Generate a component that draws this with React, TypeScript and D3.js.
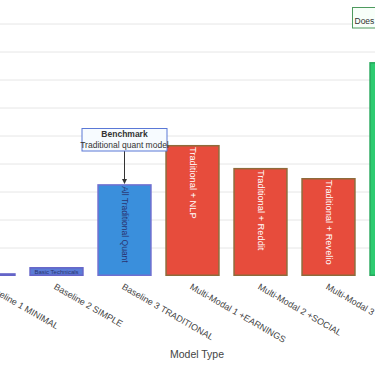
import React from 'react';
import * as d3 from 'd3';

const categories = [
  'Baseline 1 MINIMAL',
  'Baseline 2 SIMPLE',
  'Baseline 3 TRADITIONAL',
  'Multi-Modal 1 +EARNINGS',
  'Multi-Modal 2 +SOCIAL',
  'Multi-Modal 3 +WORKFORCE',
  'Multi-Modal 4 FULL',
];
const values = [0.005, 0.016, 0.164, 0.234, 0.193, 0.175, 0.382];
const barTexts = ['', 'Basic Technicals', 'All Traditional Quant', 'Traditional + NLP', 'Traditional + Reddit', 'Traditional + Revelio', 'All Sources'];
const gridTicks = [0.05, 0.1, 0.15, 0.2, 0.25, 0.3, 0.35, 0.4, 0.45];

const fills = ['#5b7bd6', '#5b7bd6', '#3a8fdc', '#e74c3c', '#e74c3c', '#e74c3c', '#2ecc71'];
const strokes = ['#6464c8', '#6464c8', '#6f6fd0', '#8e6b3b', '#8e6b3b', '#8e6b3b', '#27a85c'];
const textColors = ['#2a3470', '#2a3470', '#2a3470', '#ffffff', '#ffffff', '#ffffff', '#ffffff'];
const textSizes = [6, 6, 8.5, 9.3, 9.3, 9.3, 9.3];

const W = 375;
const H = 366;
const font = '"Liberation Sans", Arial, sans-serif';

export default function App() {
  const x = d3.scaleBand<string>()
    .domain(categories)
    .range([-45.5, -45.5 + 68 * 7])
    .paddingInner(0.2)
    .paddingOuter(0.1);

  const y = d3.scaleLinear().domain([0, 0.5]).range([276, -4]);

  const bench = x(categories[2])! + x.bandwidth() / 2;

  return (
    <svg width={W} height={H} style={{ position: 'absolute', left: 0, top: 0, background: '#fff' }} fontFamily={font}>
      <defs>
        <marker id="arr" viewBox="0 0 6 6" refX="5" refY="3" markerWidth="5" markerHeight="5" orient="auto">
          <path d="M0,0 L6,3 L0,6 Z" fill="#333" />
        </marker>
      </defs>
      {/* gridlines */}
      {gridTicks.map(t => (
        <line key={t} x1={0} x2={W} y1={y(t)} y2={y(t)} stroke="#e6e6e6" strokeWidth={1} />
      ))}

      {/* bars */}
      {categories.map((c, i) => {
        const bx = x(c)!;
        const bw = x.bandwidth();
        const top = y(values[i]);
        const h = y(0) - top;
        const cx = bx + bw / 2;
        const small = i === 1;
        return (
          <g key={c}>
            <rect x={bx + 0.75} y={top + 0.75} width={bw - 1.5} height={Math.max(h - 1.5, 0.5)}
              fill={fills[i]} stroke={strokes[i]} strokeWidth={1.5} />
            {barTexts[i] && !small && h > 40 && (
              <text transform={`translate(${cx},${top + 2}) rotate(90)`} fontSize={textSizes[i]}
                fill={textColors[i]} dominantBaseline="central" textAnchor="start">{barTexts[i]}</text>
            )}
            {small && (
              <text x={cx} y={top + h / 2} fontSize={textSizes[i]} fill={textColors[i]} textAnchor="middle"
                dominantBaseline="central">{barTexts[i]}</text>
            )}
          </g>
        );
      })}

      {/* x tick labels */}
      {categories.map(c => {
        const cx = x(c)! + x.bandwidth() / 2;
        return (
          <text key={c} transform={`translate(${cx},${283}) rotate(30)`} fontSize={9} fill="#444" dy="0.71em">{c}</text>
        );
      })}

      <text x={197} y={358} fontSize={10.5} fill="#444" textAnchor="middle">Model Type</text>

      {/* benchmark annotation */}
      <line x1={bench} x2={bench} y1={151} y2={y(values[2]) - 1} stroke="#333" strokeWidth={1} markerEnd="url(#arr)" />
      <rect x={82} y={128.5} width={85} height={22.5} fill="#f7fbff" stroke="#5a78d6" strokeWidth={1} />
      <text x={bench} y={137} fontSize={8.5} fontWeight="bold" fill="#333" textAnchor="middle">Benchmark</text>
      <text x={bench} y={148} fontSize={8.5} fill="#333" textAnchor="middle">Traditional quant model</text>

      {/* top-right annotation */}
      <rect x={352.5} y={7.5} width={60} height={20.5} fill="#f7fff9" stroke="#4e9a5e" strokeWidth={1} />
      <text x={354.5} y={24} fontSize={8.5} fill="#333">Does</text>
    </svg>
  );
}
